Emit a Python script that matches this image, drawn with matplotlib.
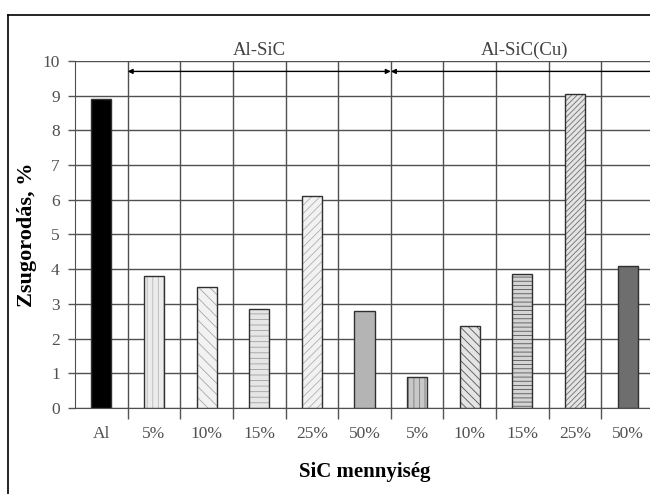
import matplotlib
matplotlib.use("Agg")
import matplotlib.pyplot as plt
from matplotlib.lines import Line2D
import numpy as np

plt.rcParams['font.family'] = ['Liberation Serif', 'DejaVu Serif']
plt.rcParams['hatch.linewidth'] = 0.6

categories = ["Al", "5%", "10%", "15%", "25%", "50%", "5%", "10%", "15%", "25%", "50%"]
values = [8.9, 3.8, 3.5, 2.85, 6.1, 2.8, 0.9, 2.35, 3.85, 9.05, 4.1]
group_labels = ["Al-SiC", "Al-SiC(Cu)"]
y_ticks = list(range(0, 11))

facecolors = ["#000000", "#ececec", "#f2f2f2", "#e6e6e6", "#f2f2f2", "#b4b4b4",
              "#c8c8c8", "#e4e4e4", "#d4d4d4", "#e4e4e4", "#6e6e6e"]
hatches = [None, "|||", "\\\\\\", "---", "////", None,
           "|||", "\\\\\\\\", "----", "//////", None]
hatchcolors = [None, "#b8b8b8", "#a8a8a8", "#a0a0a0", "#b0b0b0", None,
               "#7a7a7a", "#555555", "#555555", "#707070", None]

W, H = 650, 494
fig = plt.figure(figsize=(6.5, 4.94), dpi=100)
ax = fig.add_axes([75 / W, (H - 408) / H, (654 - 75) / W, (408 - 61) / H])

x = np.arange(len(categories))
for i in range(len(categories)):
    if hatches[i]:
        ax.bar(x[i], values[i], width=0.38, color=facecolors[i], hatch=hatches[i],
               edgecolor=hatchcolors[i], linewidth=0, zorder=3)
        ax.bar(x[i], values[i], width=0.38, fill=False, edgecolor="#303030",
               linewidth=1.0, zorder=4)
    else:
        ax.bar(x[i], values[i], width=0.38, color=facecolors[i],
               edgecolor="#303030", linewidth=1.0, zorder=3)

ax.set_xlim(-0.5, len(categories) - 0.5)
ax.set_ylim(0, 10)
ax.set_yticks(y_ticks)
ax.set_xticks(x)
ax.set_xticklabels(categories)
ax.set_xticks(np.arange(0.5, len(categories) - 0.5, 1), minor=True)
ax.tick_params(axis='x', which='major', length=0, pad=13, labelsize=12.5, labelcolor="#505050")
ax.tick_params(axis='x', which='minor', length=8, width=1, color="#555555")
ax.tick_params(axis='y', length=5, width=1, color="#555555", labelsize=12.5,
               labelcolor="#505050", pad=6)
ax.grid(axis='y', color="#505050", linewidth=1, zorder=1)
ax.grid(axis='x', which='minor', color="#505050", linewidth=1, zorder=1)
for s in ["top", "right"]:
    ax.spines[s].set_visible(False)
ax.spines["left"].set_color("#505050")
ax.spines["bottom"].set_color("#505050")
ax.set_axisbelow(True)

ax.set_ylabel("Zsugorodás, %", fontsize=16, fontweight="bold", labelpad=4)
ax.set_xlabel("SiC mennyiség", fontsize=15, fontweight="bold", labelpad=14)

# group arrows
for (x0, x1) in [(0.5, 5.5), (5.5, 10.8)]:
    ax.annotate("", xy=(x1, 9.7), xytext=(x0, 9.7),
                arrowprops=dict(arrowstyle="<|-|>", color="black", lw=1.0,
                                mutation_scale=7, shrinkA=0, shrinkB=0),
                annotation_clip=False, zorder=5)
ax.text(3.0, 10.17, group_labels[0], ha="center", va="baseline", fontsize=13.5,
        color="#404040", clip_on=False)
ax.text(8.05, 10.17, group_labels[1], ha="center", va="baseline", fontsize=13.5,
        color="#404040", clip_on=False)

# frame border
fig.add_artist(Line2D([8 / W, 8 / W], [0, (H - 15) / H], transform=fig.transFigure,
                      color="black", linewidth=1.2))
fig.add_artist(Line2D([8 / W, 1], [(H - 15) / H, (H - 15) / H], transform=fig.transFigure,
                      color="black", linewidth=1.2))

fig.savefig("out.png", dpi=100)
